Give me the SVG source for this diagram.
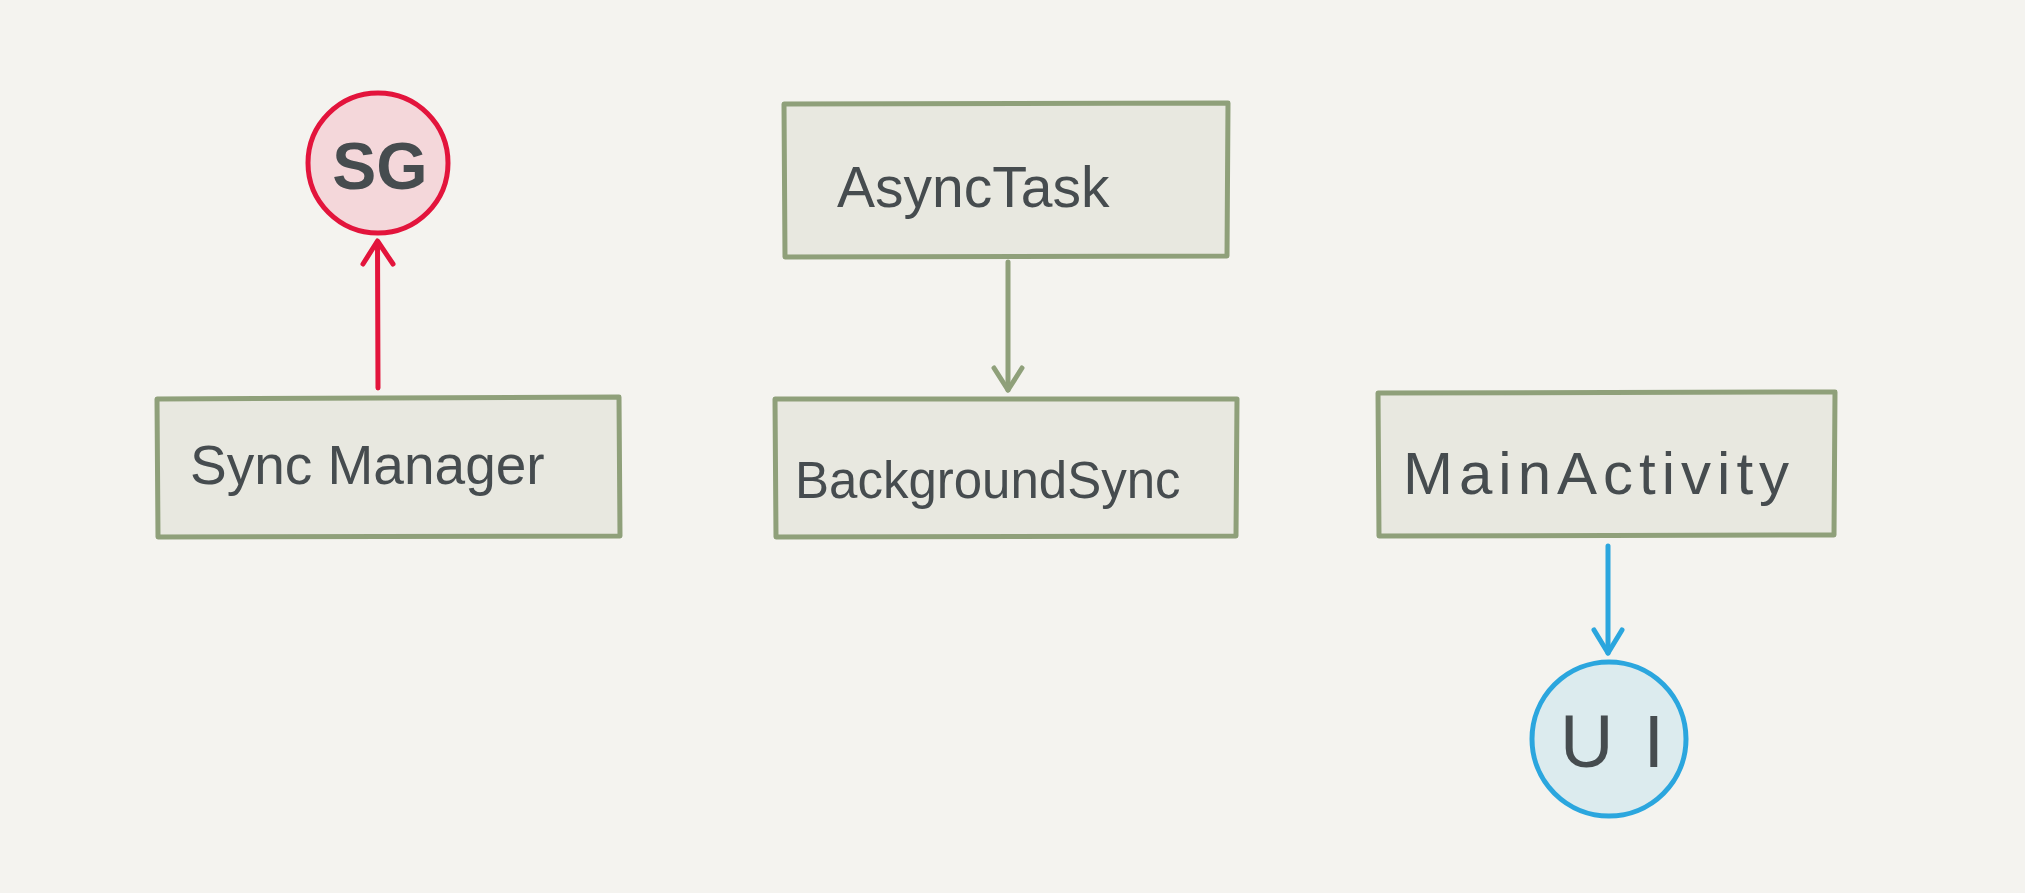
<svg xmlns="http://www.w3.org/2000/svg" width="2025" height="893" viewBox="0 0 2025 893">
<defs>
<style>
.box{fill:#e8e8e0;stroke:#8fa07a;stroke-width:5;stroke-linejoin:round;stroke-linecap:round}
.lbl{font-family:"Liberation Sans","Noto Sans",sans-serif;fill:#464c4f}
.edge{fill:none;stroke-width:5;stroke-linecap:round;stroke-linejoin:round}
</style>
</defs>
<rect width="2025" height="893" fill="#f4f3ef"/>
<g id="connectors">
<g id="e-sync-sg" class="edge" stroke="#e3143c">
<path d="M378,388 L377.5,242"/>
<path d="M363,264 L377.5,241 L393,264"/>
</g>
<g id="e-async-bg" class="edge" stroke="#8fa07a">
<path d="M1008,262 L1008,390"/>
<path d="M994,368 L1008,390 L1022,368"/>
</g>
<g id="e-main-ui" class="edge" stroke="#2ba6de">
<path d="M1608,546 L1608,653"/>
<path d="M1594,630 L1608,653 L1622,630"/>
</g>
</g>
<g id="n-sg">
<circle cx="378" cy="163" r="70" fill="#f4d7da" stroke="#e3143c" stroke-width="5"/>
<text class="lbl" x="380" y="189" text-anchor="middle" font-size="66" font-weight="bold">SG</text>
</g>
<g id="n-syncmanager">
<path class="box" d="M157,399 L619,397 L620,536 L158,537 Z"/>
<text class="lbl" x="190" y="484" font-size="55">Sync Manager</text>
</g>
<g id="n-asynctask">
<path class="box" d="M784,104 L1228,103 L1227,256 L785,257 Z"/>
<text class="lbl" x="837" y="207" font-size="57">AsyncTask</text>
</g>
<g id="n-backgroundsync">
<path class="box" d="M775,399 L1237,399 L1236,536 L776,537 Z"/>
<text class="lbl" x="795" y="498" font-size="51">BackgroundSync</text>
</g>
<g id="n-mainactivity">
<path class="box" d="M1378,393 L1835,392 L1834,535 L1379,536 Z"/>
<text class="lbl" x="1403" y="494" font-size="60" letter-spacing="6">MainActivity</text>
</g>
<g id="n-ui">
<circle cx="1609" cy="739" r="77" fill="#dcebee" stroke="#2ba6de" stroke-width="5"/>
<text class="lbl" x="1560" y="767" font-size="74" letter-spacing="30">UI</text>
</g>
</svg>
